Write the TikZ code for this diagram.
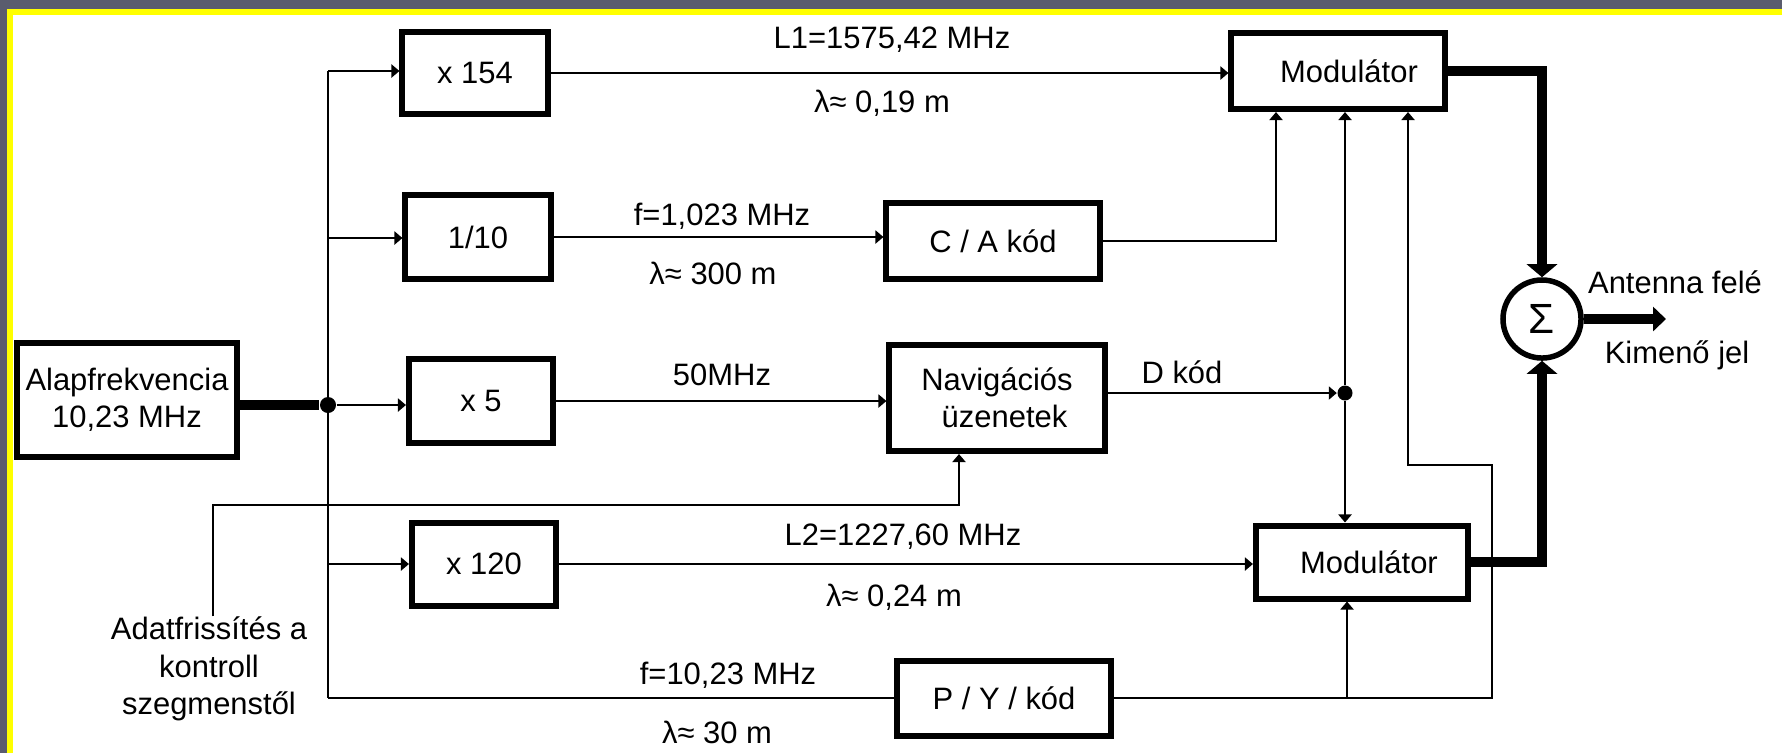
\documentclass[tikz,border=0pt]{standalone}
\usepackage{fontspec}
\setmainfont{Liberation Sans}
\usetikzlibrary{arrows.meta,calc}
\definecolor{frame}{RGB}{90,92,110}
\definecolor{ylw}{RGB}{255,255,0}
\tikzset{
  lbl/.style={font=\fontsize{8.8}{10.5}\selectfont, inner sep=0pt},
  blk/.style={draw, line width=0.06cm, rectangle, inner sep=0pt, font=\fontsize{8.8}{10.5}\selectfont, align=center},
  ln/.style={line width=0.024cm},
  arr/.style={ln, -{Triangle[length=0.08cm, width=0.13cm]}},
  thk/.style={line width=0.105cm, line join=miter},
  thkarr/.style={thk, -{Triangle[length=0.13cm, width=0.3cm]}},
  outarr/.style={thk, -{Triangle[length=0.13cm, width=0.24cm]}},
  dot/.style={circle, fill, inner sep=0pt, minimum size=0.16cm},
}
\begin{document}
\begin{tikzpicture}[x=0.01cm, y=-0.01cm]
\useasboundingbox (0,0) rectangle (1782,753);
\fill[frame] (0,0) rectangle (1782,753);
\fill[ylw] (7,9) rectangle (1782,753);
\fill[white] (13,15) rectangle (1782,753);

% blocks
\node[blk, minimum width=2.20cm, minimum height=1.13cm] (alap) at (127,400) {Alapfrekvencia\\10,23 MHz};
\node[blk, minimum width=1.45cm, minimum height=0.82cm] (x154) at (475,73) {x 154};
\node[blk, minimum width=1.45cm, minimum height=0.84cm] (tenth) at (478,237) {1/10};
\node[blk, minimum width=1.44cm, minimum height=0.84cm] (x5) at (481,401) {x 5};
\node[blk, minimum width=1.44cm, minimum height=0.83cm] (x120) at (484,564) {x 120};
\node[blk, minimum width=2.13cm, minimum height=0.76cm] (ca) at (993,241) {C / A kód};
\node[blk, minimum width=2.15cm, minimum height=1.06cm] (nav) at (997,398) {Navigációs\\\hspace*{0.15cm}üzenetek};
\node[blk, minimum width=2.13cm, minimum height=0.75cm] (py) at (1004,698) {P / Y / kód};
\node[blk, minimum width=2.13cm, minimum height=0.76cm] (modtop) at (1338,71) {\hspace*{0.22cm}Modulátor};
\node[blk, minimum width=2.12cm, minimum height=0.73cm] (modbot) at (1362,562) {\hspace*{0.14cm}Modulátor};
\node[circle, draw, line width=0.055cm, minimum size=0.78cm, inner sep=0pt, font=\fontsize{12}{14}\selectfont] (sig) at (1542,319) {Σ};

% labels
\node[lbl] (l1) at (892,40) {L1=1575,42 MHz};
\node[lbl] (lam1) at (882,103) {λ≈ 0,19 m};
\node[lbl] (f1) at (722,216) {f=1,023 MHz};
\node[lbl] (lam2) at (713,273) {λ≈ 300 m};
\node[lbl] (f50) at (722,375) {50MHz};
\node[lbl] (dk) at (1182,372) {D kód};
\node[lbl] (l2) at (903,537) {L2=1227,60 MHz};
\node[lbl] (lam3) at (894,597) {λ≈ 0,24 m};
\node[lbl] (f3) at (728,675) {f=10,23 MHz};
\node[lbl] (lam4) at (717,732) {λ≈ 30 m};
\node[lbl, align=center, font=\fontsize{8.8}{10.6}\selectfont] (adat) at (209,669) {Adatfrissítés a\\kontroll\\szegmenstől};
\node[lbl] (ant) at (1675,282) {Antenna felé};
\node[lbl] (kim) at (1677,355) {Kimenő jel};

% bus
\coordinate (b1) at (328,71);
\coordinate (b2) at (328,238);
\node[dot] (j) at (328,405) {};
\coordinate (b4) at (328,564);
\coordinate (b5) at (328,698);
\draw[thk] (alap.east |- j) -- (j);
\draw[ln] (b1) -- (b5);
\draw[arr] (b1) -- (b1 -| x154.west);
\draw[arr] (b2) -- (b2 -| tenth.west);
\draw[arr] (j) -- (j -| x5.west);
\draw[arr] (b4) -- (b4 -| x120.west);
\draw[ln] (b5) -- (b5 -| py.west);

% middle connections
\draw[arr] (x154.east) -- (x154.east -| modtop.west);
\draw[arr] (tenth.east) -- (tenth.east -| ca.west);
\coordinate (cax) at (1276,241);
\draw[arr] (ca.east) -- (cax) -- (cax |- modtop.south);
\draw[arr] (x5.east) -- (x5.east -| nav.west);
\node[dot, minimum size=0.15cm] (dj) at (1345,393) {};
\draw[arr] (nav.east |- dj) -- (dj.west);
\draw[arr] (dj) -- (dj |- modtop.south);
\draw[arr] (dj) -- (dj |- modbot.north);
\draw[arr] (x120.east) -- (x120.east -| modbot.west);

% P/Y loop
\coordinate (pr) at (1492,698);
\coordinate (pt) at (1492,465);
\coordinate (pl) at (1408,465);
\draw[arr] (py.east) -- (py.east -| pr) -- (pt) -- (pl) -- (pl |- modtop.south);
\coordinate (pm) at (1347,698);
\draw[arr] (pm) -- (pm |- modbot.south);

% update line
\coordinate (a1) at (213,505);
\coordinate (a2) at (959,505);
\draw[arr] (a1 |- adat.north) -- (a1) -- (a2) -- (a2 |- nav.south);

% sum
\draw[thkarr] (modtop.east) -- (modtop.east -| sig) -- (sig.north);
\draw[thkarr] (modbot.east) -- (modbot.east -| sig) -- (sig.south);
\coordinate (out) at (1666,322);
\draw[outarr] (sig.east) -- (sig.east -| out);
\end{tikzpicture}
\end{document}
